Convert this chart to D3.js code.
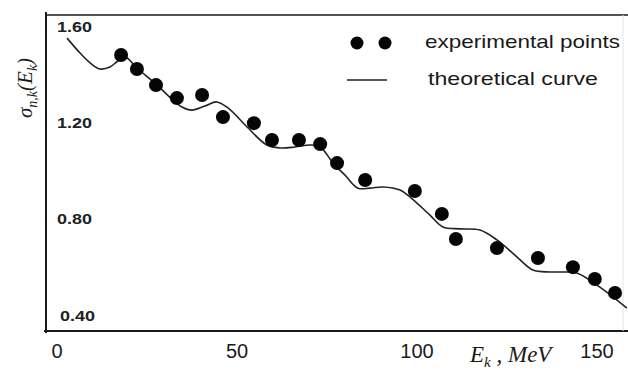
<!DOCTYPE html>
<html>
<head>
<meta charset="utf-8">
<script src="https://cdn.jsdelivr.net/npm/d3@7/dist/d3.min.js"></script>
<style>
  body { margin: 0; background: #fff; }
  svg { display: block; }
</style>
</head>
<body>
<div id="chart"></div>
<script>
// experimental points
var expEnergy = [17.8, 22.2, 27.5, 33.3, 40.3, 46.1, 54.7, 59.7, 67.2, 73.1,
                 77.8, 85.6, 99.4, 106.9, 110.8, 122.2, 133.6, 143.3, 149.4, 155.0];
var expSigma  = [1.488, 1.430, 1.363, 1.309, 1.322, 1.230, 1.205, 1.135, 1.135, 1.118,
                 1.039, 0.969, 0.923, 0.828, 0.724, 0.686, 0.645, 0.607, 0.558, 0.500];

// theoretical curve
var curveEnergy = [2.8, 6.4, 9.2, 11.9, 14.7, 16.9, 18.9, 22.2, 27.5, 31.9,
                   34.7, 37.5, 41.1, 44.4, 47.5, 52.8, 58.3, 61.9, 66.1, 70.3,
                   73.1, 76.7, 80.0, 83.6, 86.9, 90.6, 95.3, 98.1, 103.6, 107.2,
                   111.9, 117.5, 122.2, 127.8, 132.2, 136.9, 140.6, 144.4, 150.8, 158.3];
var curveSigma  = [1.558, 1.496, 1.455, 1.430, 1.438, 1.463, 1.480, 1.434, 1.367, 1.305,
                   1.272, 1.259, 1.276, 1.293, 1.268, 1.189, 1.114, 1.102, 1.106, 1.114,
                   1.106, 1.039, 0.989, 0.935, 0.935, 0.940, 0.927, 0.898, 0.823, 0.774,
                   0.766, 0.761, 0.720, 0.649, 0.595, 0.587, 0.587, 0.583, 0.524, 0.437];

var xTicks = [0, 50, 100, 150];
var yTicks = [1.60, 1.20, 0.80, 0.40];

var legendLabels = ["experimental points", "theoretical curve"];

var w = 628;
var h = 372;

var x = d3.scaleLinear().domain([0, 150]).range([57, 597]);
var y = d3.scaleLinear().domain([0.4, 1.6]).range([317, 28]);

var svg = d3.select("#chart")
  .append("svg")
  .attr("width", w)
  .attr("height", h);

var ink = "#1a1a1a";

// frame: left axis, top line, bottom axis
svg.append("line")
  .attr("x1", 46).attr("x2", 46).attr("y1", 12).attr("y2", 333)
  .attr("stroke", ink).attr("stroke-width", 2);
svg.append("line")
  .attr("x1", 46).attr("x2", w).attr("y1", 15).attr("y2", 15)
  .attr("stroke", ink).attr("stroke-width", 1.5);
svg.append("line")
  .attr("x1", 44).attr("x2", w).attr("y1", 331).attr("y2", 331)
  .attr("stroke", ink).attr("stroke-width", 2);
// faint right edge
svg.append("line")
  .attr("x1", 623).attr("x2", 623).attr("y1", 15).attr("y2", 331)
  .attr("stroke", "#e4e4e4").attr("stroke-width", 1);

// x tick labels
svg.selectAll(".xtick")
  .data(xTicks)
  .enter()
  .append("text")
  .attr("class", "xtick")
  .attr("x", function(d) { return x(d); })
  .attr("y", 353)
  .attr("text-anchor", "middle")
  .attr("dominant-baseline", "middle")
  .attr("font-family", "Liberation Sans, Arial, sans-serif")
  .attr("font-size", 20)
  .attr("fill", ink)
  .text(function(d) { return d; });

// y tick labels (inside the plot, bold)
svg.selectAll(".ytick")
  .data(yTicks)
  .enter()
  .append("text")
  .attr("class", "ytick")
  .attr("x", function(d, i) { return i == 3 ? 60 : 57; })
  .attr("y", function(d) { return y(d); })
  .attr("dominant-baseline", "middle")
  .attr("font-family", "Liberation Sans, Arial, sans-serif")
  .attr("font-weight", "bold")
  .attr("font-size", 14)
  .attr("textLength", 35)
  .attr("lengthAdjust", "spacingAndGlyphs")
  .attr("fill", "#222")
  .text(function(d) { return d.toFixed(2); });

// theoretical curve
var line = d3.line()
  .x(function(d) { return x(d[0]); })
  .y(function(d) { return y(d[1]); })
  .curve(d3.curveCatmullRom.alpha(0.5));

svg.append("path")
  .datum(d3.zip(curveEnergy, curveSigma))
  .attr("d", line)
  .attr("fill", "none")
  .attr("stroke", "#222")
  .attr("stroke-width", 1.6);

// experimental points
svg.selectAll(".pt")
  .data(d3.zip(expEnergy, expSigma))
  .enter()
  .append("circle")
  .attr("class", "pt")
  .attr("cx", function(d) { return x(d[0]); })
  .attr("cy", function(d) { return y(d[1]); })
  .attr("r", 7)
  .attr("fill", "#050505");

// legend
svg.selectAll(".legdot")
  .data([357, 385])
  .enter()
  .append("circle")
  .attr("cx", function(d) { return d; })
  .attr("cy", 43)
  .attr("r", 6.5)
  .attr("fill", "#050505");

svg.append("line")
  .attr("x1", 347).attr("x2", 387).attr("y1", 80).attr("y2", 80)
  .attr("stroke", "#222").attr("stroke-width", 1.6);

svg.selectAll(".legtext")
  .data(legendLabels)
  .enter()
  .append("text")
  .attr("x", function(d, i) { return i == 0 ? 425 : 428; })
  .attr("y", function(d, i) { return i == 0 ? 43 : 80; })
  .attr("dominant-baseline", "middle")
  .attr("font-family", "Liberation Sans, Arial, sans-serif")
  .attr("font-size", 19)
  .attr("textLength", function(d, i) { return i == 0 ? 195 : 170; })
  .attr("lengthAdjust", "spacingAndGlyphs")
  .attr("fill", ink)
  .text(function(d) { return d; });

// x axis title: E_k , MeV
var xt = svg.append("text")
  .attr("x", 470)
  .attr("y", 362)
  .attr("font-family", "Liberation Serif, Times New Roman, serif")
  .attr("font-style", "italic")
  .attr("font-size", 23)
  .attr("fill", ink);
xt.append("tspan").text("E");
xt.append("tspan").attr("dy", 5).attr("font-size", 15).text("k");
xt.append("tspan").attr("dy", -5).text(" , MeV");

// y axis title: sigma_{n,k}(E_k), rotated
var yt = svg.append("text")
  .attr("transform", "translate(32,118) rotate(-90)")
  .attr("font-family", "Liberation Serif, Times New Roman, serif")
  .attr("font-style", "italic")
  .attr("font-size", 21)
  .attr("fill", ink);
yt.append("tspan").text("σ");
yt.append("tspan").attr("dy", 5).attr("font-size", 14).text("n,k");
yt.append("tspan").attr("dy", -5).text("(E");
yt.append("tspan").attr("dy", 5).attr("font-size", 14).text("k");
yt.append("tspan").attr("dy", -5).text(")");
</script>
</body>
</html>
